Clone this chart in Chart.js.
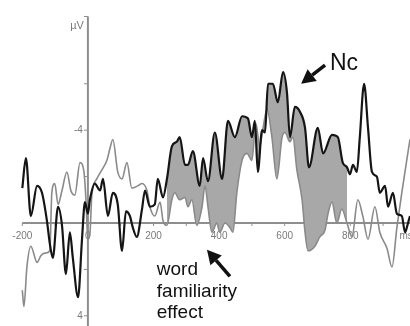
<!DOCTYPE html>
<html>
<head>
<meta charset="utf-8">
<script src="https://cdn.jsdelivr.net/npm/chart.js@4/dist/chart.umd.min.js"></script>
<style>
  html, body { margin: 0; padding: 0; background: #fff; }
  #wrap { width: 410px; height: 326px; }
</style>
</head>
<body>
<div id="wrap"><canvas id="erp" width="410" height="326"></canvas></div>
<script>
// ERP waveform data (ms, µV) — negative is plotted up
const blackTimes = [-200, -189, -174, -155, -140, -125, -116, -107, -91, -79, -67, -55, -46, -30, -18, -9, 0, 6, 21, 37,
    46, 61, 76, 91, 104, 116, 128, 137, 149, 165, 174, 189, 204, 213, 229, 241, 256, 271, 280, 296,
    305, 320, 341, 351, 366, 387, 409, 427, 448, 470, 488, 500, 509, 518, 531, 540, 549, 564, 579, 595,
    607, 616, 631, 646, 662, 674, 701, 717, 744, 762, 777, 790, 799, 808, 820, 829, 842, 854, 866, 881,
    890, 906, 915, 930, 942, 957, 967, 976, 982];
const blackValues = [-1.5, -2.8, -0.3, -1.6, -1.3, -0.1, 0.9, 1.5, -0.7, 0.1, 2.2, 0.4, 1.5, 3.2, 0.7, -0.9, -0.4, -1.0, -1.7, -1.4,
    -1.9, -0.3, -1.3, -0.8, 1.2, -0.5, -0.3, 0.2, 0.6, -0.6, -1.4, -0.7, -0.8, -1.9, -1.1, -1.9, -3.3, -3.5, -3.7, -2.5,
    -2.5, -3.1, -1.6, -2.8, -1.8, -3.9, -1.9, -4.4, -3.7, -4.6, -4.5, -3.7, -4.4, -2.2, -4.0, -3.9, -6.0, -6.0, -5.2, -6.5,
    -5.6, -3.7, -5.0, -4.8, -4.1, -2.4, -4.1, -3.0, -3.8, -3.7, -2.6, -2.4, -2.1, -2.5, -2.2, -3.7, -6.0, -4.1, -2.2, -2.0,
    -1.3, -1.6, -0.7, -1.3, -0.4, -0.3, 0.4, 0.0, -0.3];

const grayTimes = [-200, -195, -186, -174, -155, -143, -131, -116, -110, -101, -91, -79, -64, -52, -40, -24, -12, -6, 0, 6,
    12, 27, 43, 58, 67, 76, 91, 104, 119, 134, 152, 165, 180, 189, 204, 220, 229, 241, 256, 265,
    280, 296, 305, 317, 332, 348, 357, 366, 378, 393, 402, 418, 433, 442, 454, 470, 485, 500, 512, 524,
    534, 546, 561, 576, 592, 601, 616, 625, 637, 653, 662, 671, 692, 707, 723, 732, 744, 759, 774, 790,
    805, 823, 838, 854, 875, 890, 912, 927, 942, 957, 973, 982];
const grayValues = [2.9, 3.6, 1.9, 1.0, 1.7, 1.4, 1.3, 1.2, -1.3, -1.7, -0.8, -1.4, -2.2, -1.4, -1.2, -2.6, -2.2, -1.0, 0.7, 0.5,
    -1.2, -1.9, -2.3, -2.7, -3.2, -3.6, -2.2, -1.9, -2.6, -1.5, -1.6, -1.7, -1.4, -0.7, -0.3, -0.9, -0.1, 0.1, -1.0, -1.3,
    -1.0, -1.1, -0.7, -1.0, 0.1, -0.7, -1.6, -0.7, 0.4, 0.0, 0.4, 0.0, 0.2, 0.4, -1.3, -2.7, -3.0, -2.7, -4.3, -3.3,
    -4.1, -4.9, -3.7, -1.9, -3.7, -3.9, -3.5, -3.7, -2.3, -1.0, 0.4, 1.2, 1.0, 0.6, 0.3, -0.4, -0.9, 0.0, -0.6, 0.0,
    0.6, -1.0, -0.3, 0.7, -0.7, 0.4, 1.1, 1.9, 0.2, -1.3, -2.8, -3.6];

// shaded "word familiarity effect" window (ms)
const effectWindow = [241, 790];

// axis ticks
const xTickValues = [-200, -100, 0, 100, 200, 300, 400, 500, 600, 700, 800, 900];
const xTickLabels = ['-200', '', '0', '', '200', '', '400', '', '600', '', '800', ''];
const yTickValues = [-6, -4, -2, 2, 4];
const yTickLabels = ['', '-4', '', '', '4'];

const toPoints = (ts, vs) => ts.map((t, i) => ({ x: t, y: vs[i] }));
const blackPoints = toPoints(blackTimes, blackValues);
const grayPoints = toPoints(grayTimes, grayValues);
const effectPoints = blackPoints.filter(p => p.x >= effectWindow[0] && p.x <= effectWindow[1]);

const AXIS = '#8e8e8e';
const TICK_FONT = '10px "Liberation Sans", Arial, sans-serif';

// axes crossing at (0 ms, 0 µV), drawn from the scales
const erpAxes = {
    id: 'erpAxes',
    beforeDatasetsDraw(chart) {
        const { ctx, scales: { x, y } } = chart;
        const x0 = x.getPixelForValue(0);
        const y0 = y.getPixelForValue(0);
        ctx.save();
        ctx.strokeStyle = AXIS;
        ctx.lineWidth = 2;
        ctx.beginPath();
        ctx.moveTo(x0, y.getPixelForValue(-8.9));
        ctx.lineTo(x0, chart.height);
        ctx.moveTo(x.getPixelForValue(-200), y0);
        ctx.lineTo(chart.width, y0);
        ctx.stroke();

        ctx.lineWidth = 1;
        ctx.beginPath();
        ctx.moveTo(x0 - 4, y.getPixelForValue(-8.9));
        ctx.lineTo(x0, y.getPixelForValue(-8.9));
        yTickValues.forEach(v => {
            const py = y.getPixelForValue(v);
            ctx.moveTo(x0 - 4, py);
            ctx.lineTo(x0, py);
        });
        xTickValues.forEach(t => {
            const px = x.getPixelForValue(t);
            ctx.moveTo(px, y0);
            ctx.lineTo(px, y0 + 3);
        });
        ctx.stroke();

        ctx.fillStyle = '#7a7a7a';
        ctx.font = TICK_FONT;
        ctx.textBaseline = 'middle';
        ctx.textAlign = 'center';
        xTickValues.forEach((t, i) => {
            if (xTickLabels[i]) ctx.fillText(xTickLabels[i], x.getPixelForValue(t), y0 + 13);
        });
        ctx.textAlign = 'left';
        ctx.fillText('ms', x.getPixelForValue(950), y0 + 13);
        ctx.textAlign = 'right';
        yTickValues.forEach((v, i) => {
            if (yTickLabels[i]) ctx.fillText(yTickLabels[i], x0 - 5, y.getPixelForValue(v));
        });
        ctx.font = '11px "Liberation Sans", Arial, sans-serif';
        ctx.fillText('µV', x0 - 4, y.getPixelForValue(-8.5));
        ctx.restore();
    }
};

function arrow(ctx, x1, y1, x2, y2) {
    const a = Math.atan2(y2 - y1, x2 - x1);
    const len = 14, half = 7.5;
    const bx = x2 - len * Math.cos(a), by = y2 - len * Math.sin(a);
    ctx.beginPath();
    ctx.moveTo(x1, y1);
    ctx.lineTo(bx, by);
    ctx.stroke();
    ctx.beginPath();
    ctx.moveTo(x2, y2);
    ctx.lineTo(bx + half * Math.sin(a), by - half * Math.cos(a));
    ctx.lineTo(bx - half * Math.sin(a), by + half * Math.cos(a));
    ctx.closePath();
    ctx.fill();
}

// annotations, anchored in data units
const erpNotes = {
    id: 'erpNotes',
    afterDatasetsDraw(chart) {
        const { ctx, scales: { x, y } } = chart;
        ctx.save();
        ctx.fillStyle = '#111';
        ctx.strokeStyle = '#111';
        ctx.lineWidth = 3.5;
        arrow(ctx, x.getPixelForValue(723), y.getPixelForValue(-6.8), x.getPixelForValue(650), y.getPixelForValue(-6.0));
        arrow(ctx, x.getPixelForValue(433), y.getPixelForValue(2.3), x.getPixelForValue(363), y.getPixelForValue(1.15));
        ctx.textAlign = 'left';
        ctx.textBaseline = 'alphabetic';
        ctx.font = '23px "Liberation Sans", Arial, sans-serif';
        ctx.fillText('Nc', x.getPixelForValue(738), y.getPixelForValue(-6.6));
        ctx.font = '19px "Liberation Sans", Arial, sans-serif';
        ['word', 'familiarity', 'effect'].forEach((s, i) => {
            ctx.fillText(s, x.getPixelForValue(210), y.getPixelForValue(2.24 + i * 0.93));
        });
        ctx.restore();
    }
};

new Chart(document.getElementById('erp'), {
    type: 'line',
    data: {
        datasets: [
            {
                label: 'Known words',
                data: blackPoints,
                borderColor: '#151515',
                borderWidth: 2.2,
                pointRadius: 0,
                cubicInterpolationMode: 'monotone',
                fill: false,
            },
            {
                label: 'Unknown words',
                data: grayPoints,
                borderColor: '#8a8a8a',
                borderWidth: 1.6,
                pointRadius: 0,
                cubicInterpolationMode: 'monotone',
                fill: false,
            },
            {
                label: 'Effect',
                data: effectPoints,
                borderWidth: 0,
                borderColor: 'rgba(0,0,0,0)',
                backgroundColor: '#a8a8a8',
                pointRadius: 0,
                cubicInterpolationMode: 'monotone',
                fill: 1,
            }
        ]
    },
    options: {
        responsive: false,
        animation: false,
        devicePixelRatio: 1,
        layout: { padding: 0 },
        plugins: {
            legend: { display: false },
            tooltip: { enabled: false },
        },
        scales: {
            x: { type: 'linear', min: -268, max: 982, display: false },
            y: { type: 'linear', min: -9.61, max: 4.44, reverse: true, display: false },
        }
    },
    plugins: [erpAxes, erpNotes]
});
</script>
</body>
</html>
